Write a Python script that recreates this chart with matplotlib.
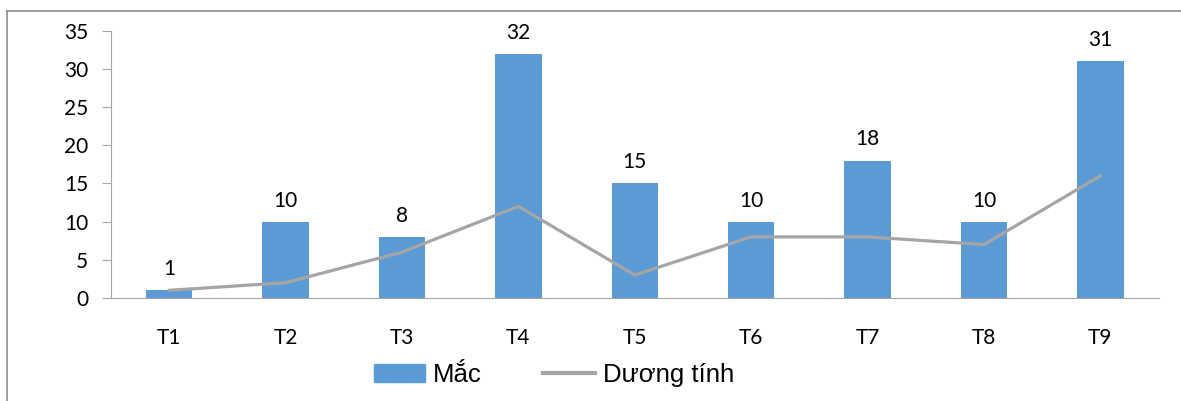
import matplotlib.pyplot as plt
import numpy as np
from matplotlib.lines import Line2D

categories = ['T1', 'T2', 'T3', 'T4', 'T5', 'T6', 'T7', 'T8', 'T9']
mac = [1, 10, 8, 32, 15, 10, 18, 10, 31]
duong_tinh = [1, 2, 6, 12, 3, 8, 8, 7, 16]

bar_color = '#5B9BD5'
line_color = '#A5A5A5'
axis_color = '#A6A6A6'

fig = plt.figure(figsize=(11.81, 4.01), dpi=100)
ax = fig.add_axes([0.094, 0.257, 0.887, 0.666])

x = np.arange(len(categories))
ax.bar(x, mac, width=0.4, color=bar_color, label='Mắc', zorder=2)
ax.plot(x, duong_tinh, color=line_color, lw=2.3, label='Dương tính', zorder=3)

for xi, v in zip(x, mac):
    ax.annotate(str(v), xy=(xi, v), xytext=(0, 8), textcoords='offset points',
                ha='center', va='bottom', fontsize=15, family='Lato')

ax.set_xlim(-0.5, len(categories) - 0.5)
ax.set_ylim(0, 35)
ax.set_yticks(range(0, 36, 5))
ax.set_xticks(x)
ax.set_xticklabels(categories)

for s in ['top', 'right']:
    ax.spines[s].set_visible(False)
ax.spines['left'].set_color(axis_color)
ax.spines['bottom'].set_color(axis_color)
ax.tick_params(axis='y', length=6.5, color=axis_color, labelsize=15, pad=10)
ax.tick_params(axis='x', length=0, labelsize=15, pad=22)
for lbl in ax.get_xticklabels() + ax.get_yticklabels():
    lbl.set_family('Lato')

handles = [plt.Rectangle((0, 0), 1, 1, color=bar_color),
           Line2D([0], [0], color=line_color, lw=3)]
fig.legend(handles, ['Mắc', 'Dương tính'], loc='center', bbox_to_anchor=(0.469, 0.065),
           ncol=2, frameon=False, prop={'family': 'Liberation Sans', 'size': 18.5},
           handlelength=2.0, handleheight=0.7, columnspacing=2.4, handletextpad=0.3)

# frame around the chart area (left and top visible)
fig.add_artist(Line2D([7 / 1181, 7 / 1181], [0, 1 - 11 / 401], color='#8C8C8C', lw=1.2,
                      transform=fig.transFigure))
fig.add_artist(Line2D([7 / 1181, 1], [1 - 11 / 401, 1 - 11 / 401], color='#8C8C8C', lw=1.2,
                      transform=fig.transFigure))

fig.savefig('out.png', dpi=100)
